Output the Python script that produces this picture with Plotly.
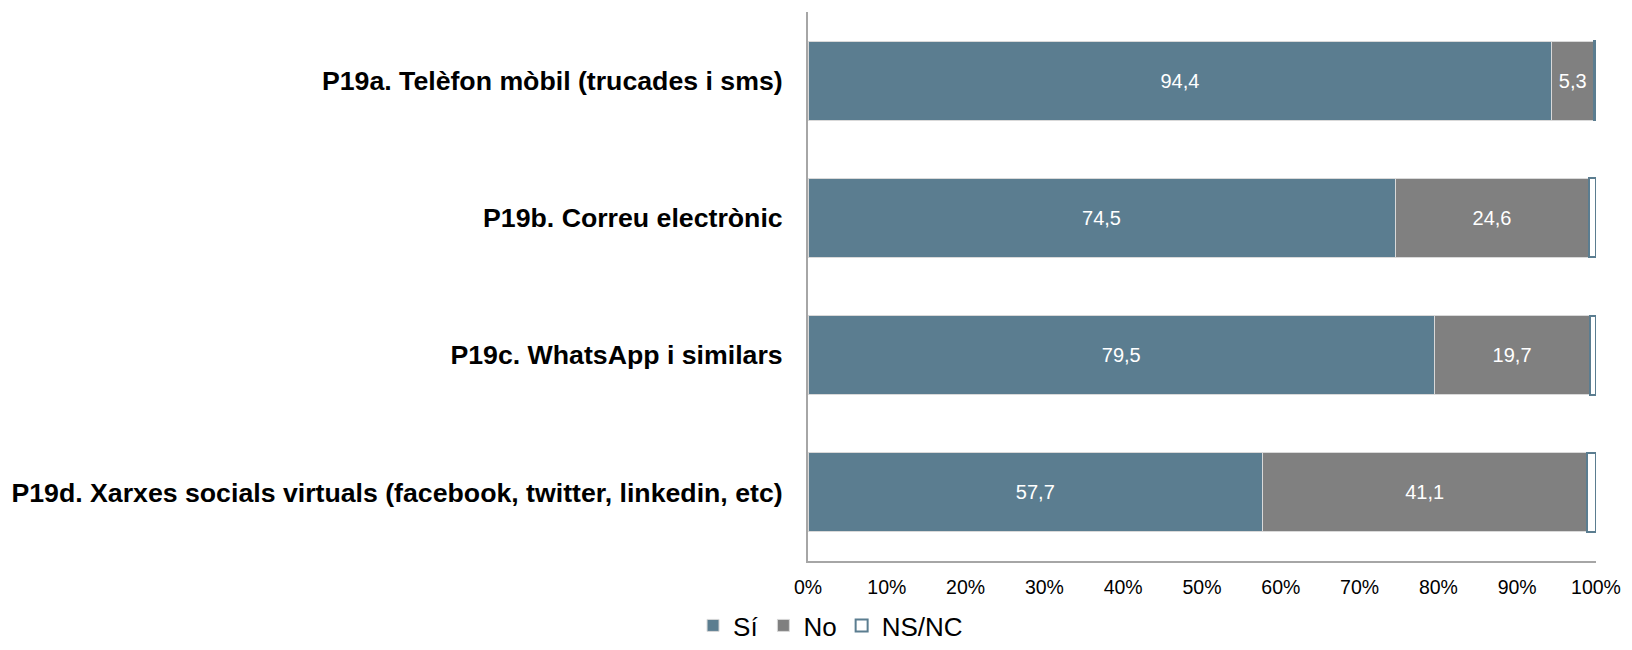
import plotly.graph_objects as go

# Dades (percentatges)
preguntes = [
    "P19a. Telèfon mòbil (trucades i sms)",
    "P19b. Correu electrònic",
    "P19c. WhatsApp i similars",
    "P19d. Xarxes socials virtuals (facebook, twitter, linkedin, etc)",
]
si = [94.4, 74.5, 79.5, 57.7]
no = [5.3, 24.6, 19.7, 41.1]
nsnc = [0.3, 0.9, 0.8, 1.2]

ticks_x = [0, 10, 20, 30, 40, 50, 60, 70, 80, 90, 100]
ticks_txt = [f"{v}%" for v in ticks_x]

FONT = "Liberation Sans, Arial, sans-serif"
BLAU = "#5b7d90"
GRIS = "#808080"

fig = go.Figure()

fig.add_trace(go.Bar(
    y=preguntes, x=si, name="Sí", orientation="h",
    marker=dict(color=BLAU, line=dict(color="#d9d9d9", width=1)),
    texttemplate="%{x:.1f}", textposition="inside", insidetextanchor="middle",
    textfont=dict(color="white", size=20, family=FONT),
))
fig.add_trace(go.Bar(
    y=preguntes, x=no, name="No", orientation="h",
    marker=dict(color=GRIS, line=dict(color="#d9d9d9", width=1)),
    texttemplate="%{x:.1f}", textposition="inside", insidetextanchor="middle",
    textfont=dict(color="white", size=20, family=FONT),
))
fig.add_trace(go.Bar(
    y=preguntes, x=nsnc, name="NS/NC", orientation="h",
    marker=dict(color="white", line=dict(color=BLAU, width=2)),
    textposition="none",
))

# la pàgina té 8px de marge al body: figura 1616x634 perquè no desbordi
fig.update_layout(
    barmode="stack",
    bargap=0.424,
    separators=",.",
    width=1616, height=634,
    margin=dict(l=800, r=28, t=4, b=81),
    plot_bgcolor="white",
    paper_bgcolor="white",
    font=dict(family=FONT, color="black"),
    showlegend=True,
    legend=dict(
        orientation="h", xref="container", yref="container",
        x=0.509, xanchor="center", y=0.026, yanchor="middle",
        font=dict(size=26), traceorder="normal", itemwidth=30,
    ),
    xaxis=dict(
        range=[0, 100], tickvals=ticks_x, ticktext=ticks_txt,
        showgrid=False, zeroline=False, automargin=False,
        showline=True, linecolor="#a6a6a6", linewidth=2,
        tickfont=dict(size=19.5), ticks="", ticklabelstandoff=8,
        ticklabeloverflow="allow",
    ),
    yaxis=dict(
        categoryorder="array", categoryarray=preguntes, autorange="reversed",
        showgrid=False, showline=True, linecolor="#a6a6a6", linewidth=2,
        automargin=False,
        tickfont=dict(size=26.7, family=FONT, weight="bold"),
        ticklabelstandoff=18, ticks="",
    ),
)

fig.write_html("out.html")
